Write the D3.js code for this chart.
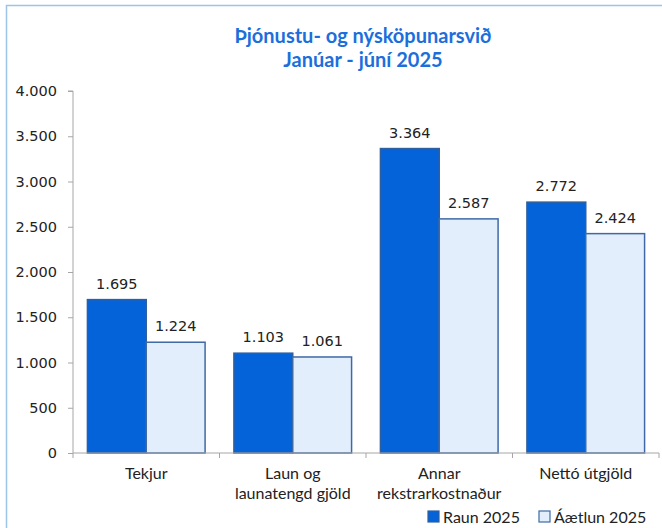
<!doctype html>
<html lang="is">
<head>
  <meta charset="utf-8">
  <title>Þjónustu- og nýsköpunarsvið</title>
  <style>
    * { margin: 0; padding: 0; box-sizing: border-box; }
    body { background: #fff; }
    svg { display: block; }
  </style>
</head>
<body>
  <div class="chart"></div>
  <script src="https://cdn.jsdelivr.net/npm/d3@7"></script>
  <script>
    // ---------------------------------------------------------------
    //@@ data
    const categories = [['Tekjur'], ['Laun og', 'launatengd gjöld'], ['Annar', 'rekstrarkostnaður'], ['Nettó útgjöld']];
    const seriesNames = ['Raun 2025', 'Áætlun 2025'];
    const raun = [1695, 1103, 3364, 2772];
    const aaetlun = [1224, 1061, 2587, 2424];
    const yTicks = [0, 500, 1000, 1500, 2000, 2500, 3000, 3500, 4000];
    const titleLines = ['Þjónustu- og nýsköpunarsvið', 'Janúar - júní 2025'];

    //@@ svg configuration
    const svgDim = {w: 662, h: 528};
    const plot = {l: 73, r: 659, t: 91, b: 453};
    const colors = {
      fill: ['#0563da', '#e3eefc'],
      stroke: ['#2f5f9e', '#3e69a6'],
      title: '#1b6fdc',
      axis: '#a6a6a6',
      text: '#222'
    };
    const numFont = '"DejaVu Sans", Verdana, sans-serif';
    const txtFont = 'Lato, "Open Sans", sans-serif';

    const fmt = v => d3.format(',')(v).replace(/,/g, '.');

    const svg = d3.select('.chart').append('svg')
      .attr('width', svgDim.w)
      .attr('height', svgDim.h);

    //@@ outer frame
    svg.append('rect')
      .attr('x', 6.5).attr('y', 5.5)
      .attr('width', 660).attr('height', 540)
      .attr('fill', 'none')
      .attr('stroke', '#9dc3e8')
      .attr('stroke-width', 1.5);

    //@@ title
    svg.append('text')
      .attr('text-anchor', 'middle')
      .attr('font-family', txtFont)
      .attr('font-weight', 'bold')
      .attr('font-size', 20)
      .attr('fill', colors.title)
      .selectAll('tspan')
      .data(titleLines)
      .join('tspan')
      .attr('x', 363)
      .attr('y', (d, i) => 43 + i * 24)
      .text(d => d);

    //@@ scales
    const keys = categories.map(d => d.join(' '));
    const x0 = d3.scaleBand().domain(keys).range([plot.l, plot.r]);
    const x1 = d3.scaleBand().domain(seriesNames).range([0, x0.bandwidth()])
      .paddingInner(0).paddingOuter(0.245);
    const y = d3.scaleLinear().domain([0, 4000]).range([plot.b, plot.t]);

    //@@ y axis
    const axisY = svg.append('g')
      .attr('transform', `translate(${plot.l},0)`)
      .call(d3.axisLeft(y).tickValues(yTicks).tickFormat(fmt).tickSize(5).tickPadding(11));
    axisY.select('.domain').attr('stroke', colors.axis).attr('d', `M-5,${y(4000)}H0V${y(0)}`);
    axisY.selectAll('.tick line').attr('stroke', colors.axis);
    axisY.selectAll('.tick text')
      .attr('font-family', numFont).attr('font-size', 14.5).attr('fill', colors.text);

    //@@ bars
    const groups = svg.append('g')
      .selectAll('g')
      .data(keys)
      .join('g')
      .attr('transform', d => `translate(${x0(d)},0)`);

    const barData = (k, i) => seriesNames.map((s, j) => ({s, j, v: [raun, aaetlun][j][i]}));

    groups.selectAll('rect')
      .data(barData)
      .join('rect')
      .attr('x', d => x1(d.s))
      .attr('y', d => y(d.v))
      .attr('width', x1.bandwidth())
      .attr('height', d => y(0) - y(d.v))
      .attr('fill', d => colors.fill[d.j])
      .attr('stroke', d => colors.stroke[d.j])
      .attr('stroke-width', 1.5);

    groups.selectAll('text.val')
      .data(barData)
      .join('text')
      .attr('class', 'val')
      .attr('x', d => x1(d.s) + x1.bandwidth() / 2)
      .attr('y', d => y(d.v) - 11)
      .attr('text-anchor', 'middle')
      .attr('font-family', numFont)
      .attr('font-size', 14.5)
      .attr('fill', colors.text)
      .text(d => fmt(d.v));

    //@@ x axis
    const axisX = svg.append('g')
      .attr('transform', `translate(0,${plot.b})`)
      .call(d3.axisBottom(x0).tickSize(0).tickFormat(''));
    axisX.select('.domain').attr('stroke', colors.axis).attr('d', `M${plot.l},0H${plot.r}`);
    axisX.selectAll('line.sep')
      .data(d3.range(keys.length + 1))
      .join('line')
      .attr('class', 'sep')
      .attr('x1', i => plot.l + i * x0.step())
      .attr('x2', i => plot.l + i * x0.step())
      .attr('y1', 0).attr('y2', 5)
      .attr('stroke', colors.axis);

    axisX.selectAll('text.cat')
      .data(categories)
      .join('text')
      .attr('class', 'cat')
      .attr('text-anchor', 'middle')
      .attr('font-family', txtFont)
      .attr('font-size', 16)
      .attr('fill', colors.text)
      .selectAll('tspan')
      .data((d, i) => d.map(t => ({t, k: keys[i]})))
      .join('tspan')
      .attr('x', d => x0(d.k) + x0.bandwidth() / 2)
      .attr('y', (d, i) => 26 + i * 20)
      .text(d => d.t);

    //@@ legend
    const legendX = [428, 539];
    const legend = svg.append('g')
      .selectAll('g')
      .data(seriesNames)
      .join('g')
      .attr('transform', (d, i) => `translate(${legendX[i]},511)`);
    legend.append('rect')
      .attr('width', 11).attr('height', 11)
      .attr('fill', (d, i) => colors.fill[i])
      .attr('stroke', (d, i) => colors.stroke[i])
      .attr('stroke-width', 1.2);
    legend.append('text')
      .attr('x', 15).attr('y', 11.5)
      .attr('font-family', txtFont)
      .attr('font-size', 16)
      .attr('fill', colors.text)
      .text(d => d);
  </script>
</body>
</html>
